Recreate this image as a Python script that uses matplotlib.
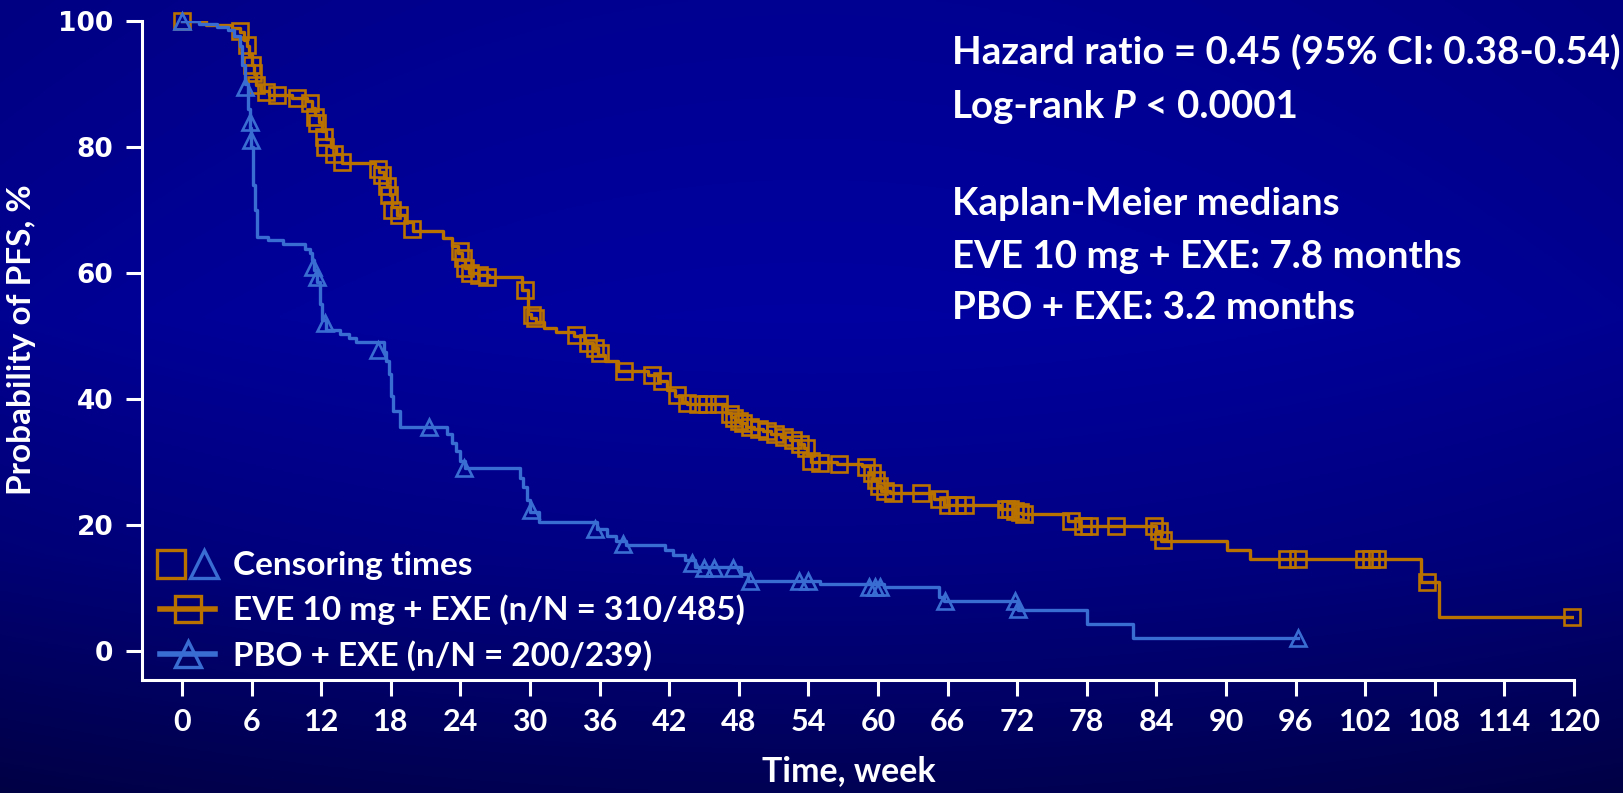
import matplotlib
matplotlib.use('Agg')
import matplotlib.pyplot as plt
from matplotlib.lines import Line2D
from matplotlib.legend_handler import HandlerTuple
import numpy as np

# ---- data ----
# EVE 10 mg + EXE: step curve (time in weeks, PFS %)
eve_t = [0, 2.1, 4.3, 5.0, 5.3, 5.6, 5.8, 6.0, 6.2, 6.4,
         6.8, 7.5, 9.5, 10.8, 11.2, 11.5, 11.8, 12.1, 12.4, 12.8,
         13.3, 13.8, 16.6, 17.0, 17.4, 17.7, 17.9, 18.1, 18.5, 19.2,
         19.9, 22.5, 23.3, 23.8, 24.1, 24.4, 24.7, 25.5, 26.5, 29.3,
         29.8, 30.1, 30.5, 31.2, 32.2, 33.8, 34.7, 35.4, 35.9, 36.5,
         37.6, 40.2, 41.0, 41.8, 42.5, 43.1, 43.5, 46.9, 47.3, 47.7,
         48.1, 48.6, 49.3, 50.1, 50.8, 51.6, 52.4, 53.1, 53.6, 53.9,
         54.2, 56.5, 58.6, 59.3, 59.6, 59.9, 60.3, 61.0, 64.8, 65.7,
         70.5, 71.8, 72.4, 76.4, 77.4, 84.0, 84.4, 90.1, 92.1, 106.8,
         108.4, 120]
eve_s = [100, 99.3, 98.8, 98.2, 97, 96, 94.5, 93, 91.5, 89.8,
         88.8, 88.2, 87.7, 87.2, 86.2, 85, 84, 82.5, 81.2, 80,
         78.8, 77.4, 76.8, 76, 75, 73.8, 72.4, 70.5, 69.2, 68,
         66.6, 65.5, 64.2, 63.2, 62, 60.8, 60, 59.7, 59.4, 57.2,
         53.5, 52.8, 52.2, 51.3, 50.6, 50.0, 48.8, 48.0, 47.0, 46.0,
         44.4, 43.8, 42.8, 41.4, 40.4, 39.5, 39.2, 37.8, 37.1, 36.6,
         36.1, 35.6, 35.2, 34.9, 34.5, 34.0, 33.5, 32.9, 32.2, 31.2,
         30.0, 29.7, 29.3, 28.3, 27.2, 26.2, 25.4, 25.0, 24.1, 23.2,
         22.5, 21.9, 21.7, 20.7, 19.9, 19.1, 17.5, 16.0, 14.6, 11.0,
         5.4, 5.4]
eve_cens_t = [0, 5.0, 5.6, 6.0, 6.1, 6.4, 7.2, 8.2, 9.9, 11.0,
              11.5, 11.6, 12.2, 12.3, 13.1, 13.8, 16.9, 17.2, 17.7, 17.8,
              18.1, 18.7, 19.8, 24.0, 24.2, 24.4, 24.8, 25.6, 26.3, 29.6,
              30.2, 30.4, 34.0, 35.0, 35.6, 36.0, 38.1, 40.5, 41.4, 42.7,
              43.5, 44.5, 45.3, 46.3, 47.2, 47.6, 48.0, 48.4, 49.0, 49.7,
              50.4, 51.1, 51.9, 52.7, 53.3, 53.8, 54.2, 55.0, 56.6, 59.0,
              59.5, 59.8, 60.1, 60.6, 61.3, 63.7, 65.3, 66.0, 66.8, 67.5,
              71.0, 71.4, 71.8, 72.2, 72.6, 76.6, 77.7, 78.2, 80.5, 83.8,
              84.2, 84.6, 95.3, 96.2, 101.9, 102.5, 103.0, 107.3, 119.8]
eve_cens_s = [100, 98.3, 96.1, 93, 91.7, 89.8, 88.7, 88.2, 87.7, 86.9,
              84.8, 83.7, 81.6, 80.0, 78.9, 77.6, 76.5, 75.5, 73.7, 72.4,
              70.0, 69.2, 67.0, 63.5, 62.3, 60.8, 60.0, 59.7, 59.4, 57.2,
              53.3, 52.8, 50.1, 48.8, 48.0, 47.2, 44.4, 43.8, 42.8, 40.6,
              39.4, 39.2, 39.2, 39.2, 37.6, 37.0, 36.5, 36.1, 35.6, 35.2,
              34.9, 34.5, 34.0, 33.5, 32.9, 32.2, 30.1, 29.9, 29.7, 29.2,
              28.2, 27.2, 26.2, 25.4, 25.0, 25.0, 24.1, 23.2, 23.2, 23.2,
              22.5, 22.5, 22.2, 22.0, 21.8, 20.7, 19.9, 19.9, 19.9, 19.9,
              19.1, 17.6, 14.6, 14.6, 14.6, 14.6, 14.6, 11.0, 5.4]

# PBO + EXE
pbo_t = [0, 1.5, 3.0, 4.0, 4.5, 5.0, 5.2, 5.4, 5.7, 5.85,
         5.95, 6.1, 6.3, 6.5, 7.4, 8.7, 10.6, 11.0, 11.2, 11.4,
         11.6, 11.9, 12.1, 12.4, 13.6, 14.4, 15.0, 17.4, 17.6, 17.8,
         18.0, 18.2, 18.8, 22.8, 23.3, 23.6, 24.0, 24.4, 29.1, 29.4,
         29.7, 30.0, 30.8, 35.8, 36.6, 37.4, 38.3, 41.6, 42.3, 43.4,
         44.2, 48.2, 48.8, 55.0, 60.5, 65.3, 65.7, 72.1, 78.0, 82.0,
         96.2]
pbo_s = [100, 99.5, 99.0, 98.5, 97.5, 96.0, 93.0, 90.0, 86.0, 83.0,
         80.0, 74.0, 70.0, 65.7, 65.2, 64.6, 63.8, 63.1, 62.0, 60.5,
         58.5, 55.0, 52.5, 50.9, 50.3, 49.7, 49.1, 47.5, 46.0, 44.0,
         40.5, 38.0, 35.6, 34.4, 33.0, 31.8, 30.2, 29.0, 27.5, 26.0,
         24.0, 22.0, 20.5, 19.3, 18.3, 17.4, 16.8, 16.0, 15.2, 14.4,
         13.3, 12.2, 11.1, 10.6, 10.2, 8.6, 8.0, 6.5, 4.3, 2.0,
         2.0]
pbo_cens_t = [0, 5.4, 5.9, 5.95, 11.3, 11.6, 12.3, 16.9, 21.3, 24.3,
              30.1, 35.6, 38.0, 44.0, 45.0, 45.9, 47.5, 49.0, 53.2, 54.0,
              59.2, 59.7, 60.2, 65.8, 71.8, 72.1, 96.2]
pbo_cens_s = [100, 89.5, 84.0, 81.0, 61.0, 59.3, 52.0, 47.7, 35.6, 29.0,
              22.3, 19.4, 16.9, 14.0, 13.1, 13.1, 13.1, 11.1, 11.1, 11.1,
              10.2, 10.2, 10.2, 8.0, 8.0, 6.6, 2.0]

legend_labels = ['Censoring times', 'EVE 10 mg + EXE (n/N = 310/485)',
                 'PBO + EXE (n/N = 200/239)']
x_ticks = list(range(0, 121, 6))
y_ticks = [0, 20, 40, 60, 80, 100]

EVE_C = '#B97100'
PBO_C = '#3A6DD2'
FONT = 'Lato'

fig = plt.figure(figsize=(16.23, 7.93), dpi=100)

# background gradient (navy, brighter in the middle)
bg = fig.add_axes([0, 0, 1, 1], zorder=-5)
yy, xx = np.mgrid[1:0:400j, 0:1:800j]
blue = np.interp(yy, [0.0, 0.3, 0.6, 1.0], [0.33, 0.52, 0.63, 0.57])
blue = blue - 0.06 * ((xx - 0.5) / 0.5) ** 2
img = np.zeros(yy.shape + (3,))
img[..., 2] = blue
bg.imshow(img, aspect='auto', extent=(0, 1, 0, 1))
bg.axis('off')

ax = fig.add_axes([0.0875, 0.1425, 0.8823, 0.8314])
ax.set_facecolor('none')

ax.step(eve_t, eve_s, where='post', color=EVE_C, lw=2.4, zorder=3)
ax.step(pbo_t, pbo_s, where='post', color=PBO_C, lw=2.4, zorder=4)
ax.plot(eve_cens_t, eve_cens_s, ls='none', marker='s', ms=11, mfc='none',
        mec=EVE_C, mew=1.9, zorder=3, clip_on=False)
ax.plot(pbo_cens_t, pbo_cens_s, ls='none', marker='^', ms=11, mfc='none',
        mec=PBO_C, mew=1.9, zorder=4, clip_on=False)

ax.set_xlim(-3.45, 120)
ax.set_ylim(-4.6, 100)
ax.set_xticks(x_ticks)
ax.set_yticks(y_ticks)
ax.set_xticklabels([str(v) for v in x_ticks], fontfamily=FONT,
                   fontweight='bold', fontsize=22)
ax.set_yticklabels([str(v) for v in y_ticks], fontfamily='DejaVu Sans',
                   fontweight='bold', fontsize=19)
ax.tick_params(colors='white', width=2.2, length=11.5, pad=9)
for s in ['top', 'right']:
    ax.spines[s].set_visible(False)
for s in ['left', 'bottom']:
    ax.spines[s].set_color('white')
    ax.spines[s].set_linewidth(2.2)

ax.set_xlabel('Time, week', color='white', fontfamily=FONT,
              fontweight='bold', fontsize=24.5)
ax.xaxis.set_label_coords(0.4937, -0.114)
ax.set_ylabel('Probability of PFS, %', color='white', fontfamily=FONT,
              fontweight='bold', fontsize=24)
ax.yaxis.set_label_coords(-0.074, 0.5157)

# legend
h_cens = (Line2D([], [], ls='none', marker='s', ms=20, mfc='none', mec=EVE_C, mew=2.4),
          Line2D([], [], ls='none', marker='^', ms=20, mfc='none', mec=PBO_C, mew=2.4))
h_eve = Line2D([], [], color=EVE_C, lw=4, marker='s', ms=19, mfc='none',
               mec=EVE_C, mew=2.4)
h_pbo = Line2D([], [], color=PBO_C, lw=4, marker='^', ms=19, mfc='none',
               mec=PBO_C, mew=2.4)
ax.legend([h_cens, h_eve, h_pbo], legend_labels,
          handler_map={tuple: HandlerTuple(ndivide=None, pad=0.3)},
          loc='center left', bbox_to_anchor=(0.0126, 0.1047), frameon=False,
          prop={'family': FONT, 'weight': 'bold', 'size': 24},
          labelcolor='white', handlelength=1.65, handletextpad=0.55,
          labelspacing=0.43, borderaxespad=0, borderpad=0)

# annotation block
fs = 27.7
tkw = dict(transform=ax.transAxes, color='white', fontfamily=FONT,
           fontweight='bold', fontsize=fs, va='center', ha='left')
ax.text(0.5656, 0.9525, 'Hazard ratio = 0.45 (95% CI: 0.38-0.54)', **tkw)
t1 = ax.text(0.5656, 0.869, 'Log-rank', **tkw)
t2 = ax.annotate(' P', xy=(1, 0), xycoords=t1, va='bottom', ha='left',
                 color='white', fontfamily=FONT, fontweight='bold',
                 fontstyle='italic', fontsize=fs)
ax.annotate(' < 0.0001', xy=(1, 0), xycoords=t2, va='bottom', ha='left',
            color='white', fontfamily=FONT, fontweight='bold', fontsize=fs)
ax.text(0.5656, 0.722, 'Kaplan-Meier medians', **tkw)
ax.text(0.5656, 0.6416, 'EVE 10 mg + EXE: 7.8 months', **tkw)
ax.text(0.5656, 0.564, 'PBO + EXE: 3.2 months', **tkw)

fig.savefig('out.png', dpi=100)
